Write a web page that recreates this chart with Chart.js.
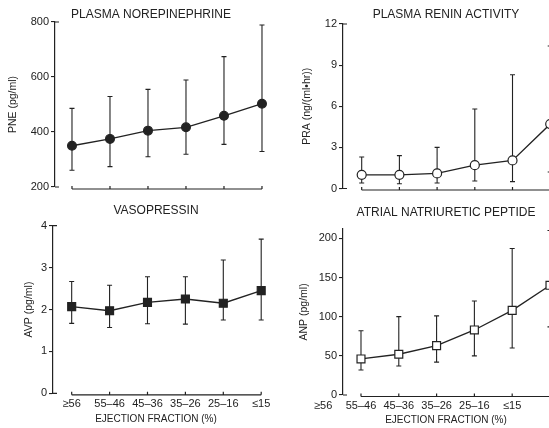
<!DOCTYPE html>
<html>
<head>
<meta charset="utf-8">
<script src="https://cdn.jsdelivr.net/npm/chart.js@4.4.1/dist/chart.umd.min.js"></script>
<style>
  html, body { margin: 0; padding: 0; background: #fff; }
  #wrap { position: relative; width: 549px; height: 428px; overflow: hidden; }
  canvas { position: absolute; }
</style>
</head>
<body>
<div id="wrap">
  <canvas id="pne" style="left:0;top:0" width="302" height="215"></canvas>
  <canvas id="pra" style="left:275px;top:0" width="274" height="215"></canvas>
  <canvas id="avp" style="left:0;top:197px" width="275" height="231"></canvas>
  <canvas id="anp" style="left:275px;top:197px" width="274" height="231"></canvas>
</div>
<script>
const groups = ['≥56', '55–46', '45–36', '35–26', '25–16', '≤15'];

const pneMean  = [350, 375, 405, 417, 459, 503];
const pneUpper = [486, 529, 555, 589, 674, 789];
const pneLower = [261, 274, 310, 319, 355, 329];

const praMean  = [1.0, 1.0, 1.1, 1.7, 2.05, 4.7];
const praUpper = [2.3, 2.4, 3.0, 5.8, 8.3, 10.4];
const praLower = [0.4, 0.35, 0.4, 0.55, 0.5, 1.2];

const avpMean  = [2.07, 1.97, 2.17, 2.25, 2.15, 2.45];
const avpUpper = [2.67, 2.58, 2.78, 2.78, 3.18, 3.68];
const avpLower = [1.67, 1.57, 1.66, 1.65, 1.75, 1.75];

const anpMean  = [46, 52, 63, 83, 108, 140];
const anpUpper = [82, 100, 101, 120, 187, 210];
const anpLower = [32, 37, 42, 50, 60, 87];

const INK = '#222';
Chart.defaults.font.family = '"Liberation Sans", Arial, sans-serif';
Chart.defaults.color = INK;

function makePanel(id, cfg) {
  // error bars behind the markers
  const errorBars = {
    id: 'errorBars',
    beforeDatasetsDraw(chart) {
      const { ctx, scales: { x, y } } = chart;
      ctx.save();
      ctx.strokeStyle = INK;
      ctx.lineWidth = 1.1;
      ctx.beginPath();
      cfg.upper.forEach((hi, i) => {
        const px = x.getPixelForValue(i);
        const top = y.getPixelForValue(hi);
        const bot = y.getPixelForValue(cfg.lower[i]);
        ctx.moveTo(px, top); ctx.lineTo(px, bot);
        ctx.moveTo(px - 2.5, top); ctx.lineTo(px + 2.5, top);
        ctx.moveTo(px - 2.5, bot); ctx.lineTo(px + 2.5, bot);
      });
      ctx.stroke();
      ctx.restore();
    },
  };

  // the bracket-style x axis under the points and the little hooks on the y axis
  const axisBracket = {
    id: 'axisBracket',
    afterDraw(chart) {
      const { ctx, chartArea, scales: { x } } = chart;
      const yb = chartArea.bottom + cfg.gap;
      ctx.save();
      ctx.strokeStyle = INK;
      ctx.lineWidth = 1.2;
      ctx.beginPath();
      ctx.moveTo(x.getPixelForValue(0), yb);
      ctx.lineTo(x.getPixelForValue(groups.length - 1), yb);
      groups.forEach((g, i) => {
        const px = x.getPixelForValue(i);
        ctx.moveTo(px, yb);
        ctx.lineTo(px, yb - 3);
      });
      ctx.moveTo(chartArea.left, chartArea.bottom);
      ctx.lineTo(chartArea.left + 4, chartArea.bottom);
      if (cfg.topHook) {
        ctx.moveTo(chartArea.left, chartArea.top);
        ctx.lineTo(chartArea.left + 4, chartArea.top);
      }
      ctx.stroke();
      ctx.restore();
    },
  };

  const yTop = cfg.yTop ?? cfg.yMax;

  return new Chart(document.getElementById(id), {
    type: 'line',
    data: {
      datasets: [{
        data: cfg.mean.map((v, i) => ({ x: i, y: v })),
        borderColor: INK,
        borderWidth: 1.3,
        pointStyle: cfg.marker,
        pointRadius: cfg.radius,
        pointBackgroundColor: cfg.open ? '#fff' : INK,
        pointBorderColor: INK,
        pointBorderWidth: 1.2,
        clip: false,
      }],
    },
    options: {
      responsive: false,
      animation: false,
      events: [],
      layout: { autoPadding: false, padding: { left: 0, top: 0, right: cfg.padRight || 0, bottom: 0 } },
      plugins: {
        legend: { display: false },
        tooltip: { enabled: false },
        title: {
          display: true,
          text: cfg.title,
          fullSize: cfg.fullTitle,
          color: INK,
          font: { size: 12, weight: 'normal' },
          padding: { top: cfg.titleTop, bottom: cfg.titleBottom },
        },
      },
      scales: {
        x: {
          type: 'linear',
          min: cfg.xMin,
          max: cfg.xMax,
          afterFit: (s) => { s.height = cfg.xHeight; },
          afterBuildTicks: (s) => {
            s.ticks = groups.map((g, i) => ({ value: i + (cfg.tickShift || 0) }));
          },
          ticks: {
            display: !!cfg.xLabels,
            autoSkip: false,
            maxRotation: 0,
            padding: cfg.tickPad || 0,
            font: { size: 11 },
            color: INK,
            callback: (v, i) => groups[i],
          },
          grid: { display: false, drawTicks: false },
          border: { display: false },
          title: {
            display: !!cfg.xLabels,
            text: 'EJECTION FRACTION (%)',
            color: INK,
            font: { size: 10 },
            padding: { top: 0, bottom: cfg.xTitlePad || 0 },
          },
        },
        y: {
          min: cfg.yMin,
          max: cfg.yMax,
          afterFit: (s) => { s.width = cfg.yWidth; },
          afterBuildTicks: (s) => {
            const ticks = [];
            for (let v = cfg.yMin; v <= yTop + 1e-9; v += cfg.step) ticks.push({ value: v });
            s.ticks = ticks;
          },
          ticks: { stepSize: cfg.step, padding: 2, font: { size: 11 }, color: INK },
          grid: { drawOnChartArea: false, drawTicks: true, tickLength: 4, color: INK, lineWidth: 1.1 },
          border: { display: true, color: INK, width: 1.2 },
          title: {
            display: true,
            text: cfg.yTitle,
            color: INK,
            font: { size: 10.5 },
            padding: { top: cfg.yTitlePad, bottom: 0 },
          },
        },
      },
    },
    plugins: [errorBars, axisBracket],
  });
}

makePanel('pne', {
  title: 'PLASMA NOREPINEPHRINE', fullTitle: true, titleTop: 7, titleBottom: 0.6,
  mean: pneMean, upper: pneUpper, lower: pneLower,
  marker: 'circle', radius: 4.4, open: false,
  yMin: 200, yMax: 800, step: 200, yWidth: 55, yTitle: 'PNE (pg/ml)', yTitlePad: 6.7,
  xMin: -0.447, xMax: 6.053, xHeight: 28, gap: 2, topHook: true,
});

makePanel('pra', {
  title: 'PLASMA RENIN ACTIVITY', fullTitle: false, titleTop: 7.8, titleBottom: 1.8,
  mean: praMean, upper: praUpper, lower: praLower,
  marker: 'circle', radius: 4.5, open: true,
  yMin: 0, yMax: 12, step: 3, yWidth: 68, yTitle: 'PRA (ng/(ml•hr))', yTitlePad: 25.7,
  xMin: -0.496, xMax: 4.968, xHeight: 26.5, gap: 1.5, topHook: true,
});

makePanel('avp', {
  title: 'VASOPRESSIN', fullTitle: false, titleTop: 6.8, titleBottom: 7.5, padRight: 16,
  mean: avpMean, upper: avpUpper, lower: avpLower,
  marker: 'rect', radius: 5.6, open: false,
  yMin: 0, yMax: 4, step: 1, yWidth: 53, yTitle: 'AVP (pg/ml)', yTitlePad: 22.7,
  xMin: -0.493, xMax: 4.942, xHeight: 34.7, gap: 1.5, topHook: true,
  xLabels: true, tickShift: 0, tickPad: 4, xTitlePad: 3,
});

makePanel('anp', {
  title: 'ATRIAL NATRIURETIC PEPTIDE', fullTitle: false, titleTop: 8.8, titleBottom: 8.7,
  mean: anpMean, upper: anpUpper, lower: anpLower,
  marker: 'rect', radius: 5.6, open: true,
  yMin: 0, yMax: 212, yTop: 200, step: 50, yWidth: 68, yTitle: 'ANP (pg/ml)', yTitlePad: 22.7,
  xMin: -0.476, xMax: 4.974, xHeight: 33, gap: 1.5, topHook: false,
  xLabels: true, tickShift: -1, tickPad: 4.4, xTitlePad: 2,
});
</script>
</body>
</html>
